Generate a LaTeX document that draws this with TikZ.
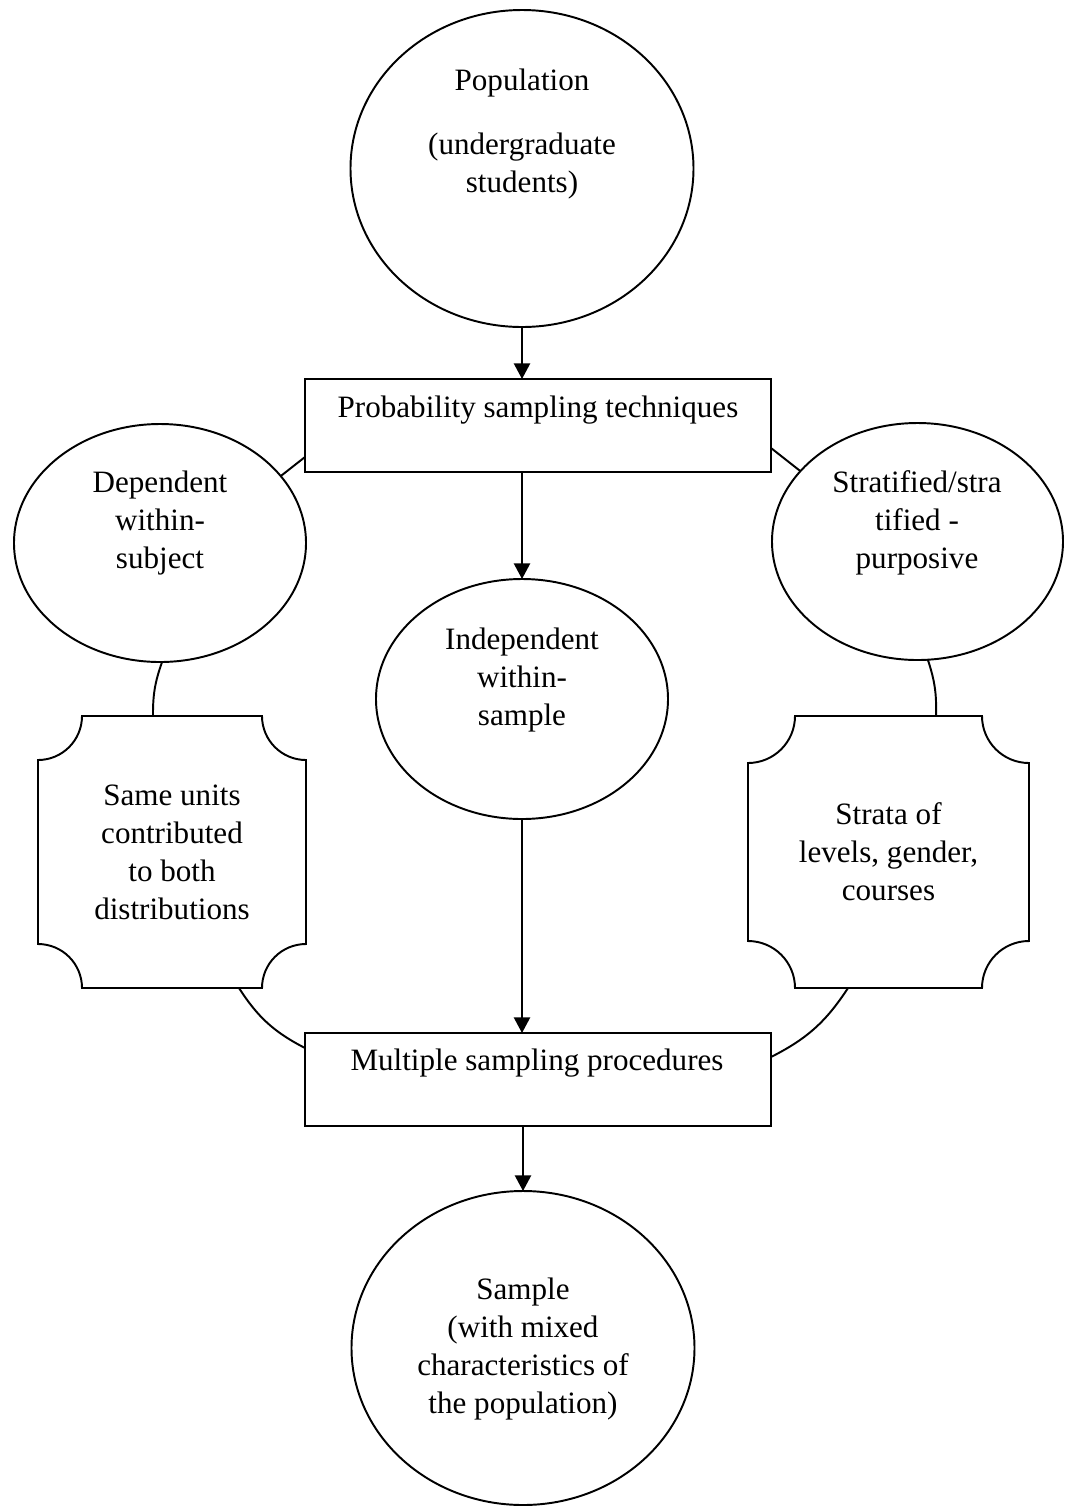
\documentclass[tikz,border=0pt]{standalone}
\usepackage{fontspec}
\setmainfont{Liberation Serif}
\usetikzlibrary{shapes.geometric,arrows.meta,calc}

% rectangle with concave quarter-circle corners, drawn round a named node
\newcommand{\drawplaque}[2]{%
  \draw ($(#1.north west)+(#2,0)$) -- ($(#1.north east)+(-#2,0)$)
    arc[start angle=180,end angle=270,radius=#2]
    -- ($(#1.south east)+(0,#2)$)
    arc[start angle=90,end angle=180,radius=#2]
    -- ($(#1.south west)+(#2,0)$)
    arc[start angle=0,end angle=90,radius=#2]
    -- ($(#1.north west)+(0,-#2)$)
    arc[start angle=270,end angle=360,radius=#2] -- cycle;}

\begin{document}
\begin{tikzpicture}[x=0.386pt,y=0.386pt,
  line width=0.75pt,
  every node/.style={inner sep=0pt,outer sep=0pt},
  osize/.style 2 args={minimum width=#1*0.386pt,minimum height=#2*0.386pt},
  oval/.style={draw,ellipse},
  frame/.style={draw,rectangle},
  lbl/.style={align=center,font=\fontsize{12pt}{14.7pt}\selectfont},
  arr/.style={-{Triangle[length=6pt,width=6.2pt]}}
]
\useasboundingbox (0,0) rectangle (1065,-1506);

% top: population
\node[oval,osize={343}{317}] (pop) at (522,-168.5) {};
\node[lbl] (popt) at (522,-134) {Population\\[10pt](undergraduate\\students)};

% probability sampling box
\node[frame,osize={466}{93}] (pst) at (538,-425.5) {};
\node[lbl] (pstt) at (538,-410) {Probability sampling techniques};

% three sampling branches
\node[oval,osize={292}{238}] (dep) at (160,-543) {};
\node[lbl] (dept) at (160,-523) {Dependent\\within-\\subject};

\node[oval,osize={292}{240}] (ind) at (522,-699) {};
\node[lbl] (indt) at (522,-680) {Independent\\within-\\sample};

\node[oval,osize={291}{237}] (str) at (917.5,-541.5) {};
\node[lbl] (strt) at (917,-523) {Stratified/stra\\tified -\\purposive};

% detail plaques
\node[lbl,osize={268}{272}] (lp) at (172,-852)
  {Same units\\contributed\\to both\\distributions};
\drawplaque{lp}{44}
\node[lbl,osize={281}{272}] (rp) at (888.5,-852)
  {Strata of\\levels, gender,\\courses};
\drawplaque{rp}{47}

% multiple sampling box
\node[frame,osize={466}{93}] (ms) at (538,-1079.5) {};
\node[lbl] (mst) at (537,-1063) {Multiple sampling procedures};

% sample
\node[oval,osize={343}{314}] (smp) at (523,-1348) {};
\node[lbl] (smpt) at (523,-1349) {Sample\\(with mixed\\characteristics of\\the population)};

% arrows down the middle
\draw[arr] (pop.south) -- (pop.south |- pst.north);
\draw[arr] (ind.north |- pst.south) -- (ind.north);
\draw[arr] (ind.south) -- (ind.south |- ms.north);
\draw[arr] (smp.north |- ms.south) -- (smp.north);

% side links
\draw ($(pst.west)+(0,-31.5)$) -- (dep.29);
\draw ($(pst.east)+(0,-22.5)$) -- (str.149);
\draw (dep.-89) to[bend right=10] ($(lp.north)+(-19,0)$);
\draw (str.-85) to[bend left=10] ($(rp.north)+(47.5,0)$);
\draw ($(lp.south)+(67,0)$) to[bend right=15] ($(ms.west)+(0,31.5)$);
\draw ($(rp.south)+(-40.5,0)$) to[bend left=15] ($(ms.east)+(0,22.5)$);
\end{tikzpicture}
\end{document}
